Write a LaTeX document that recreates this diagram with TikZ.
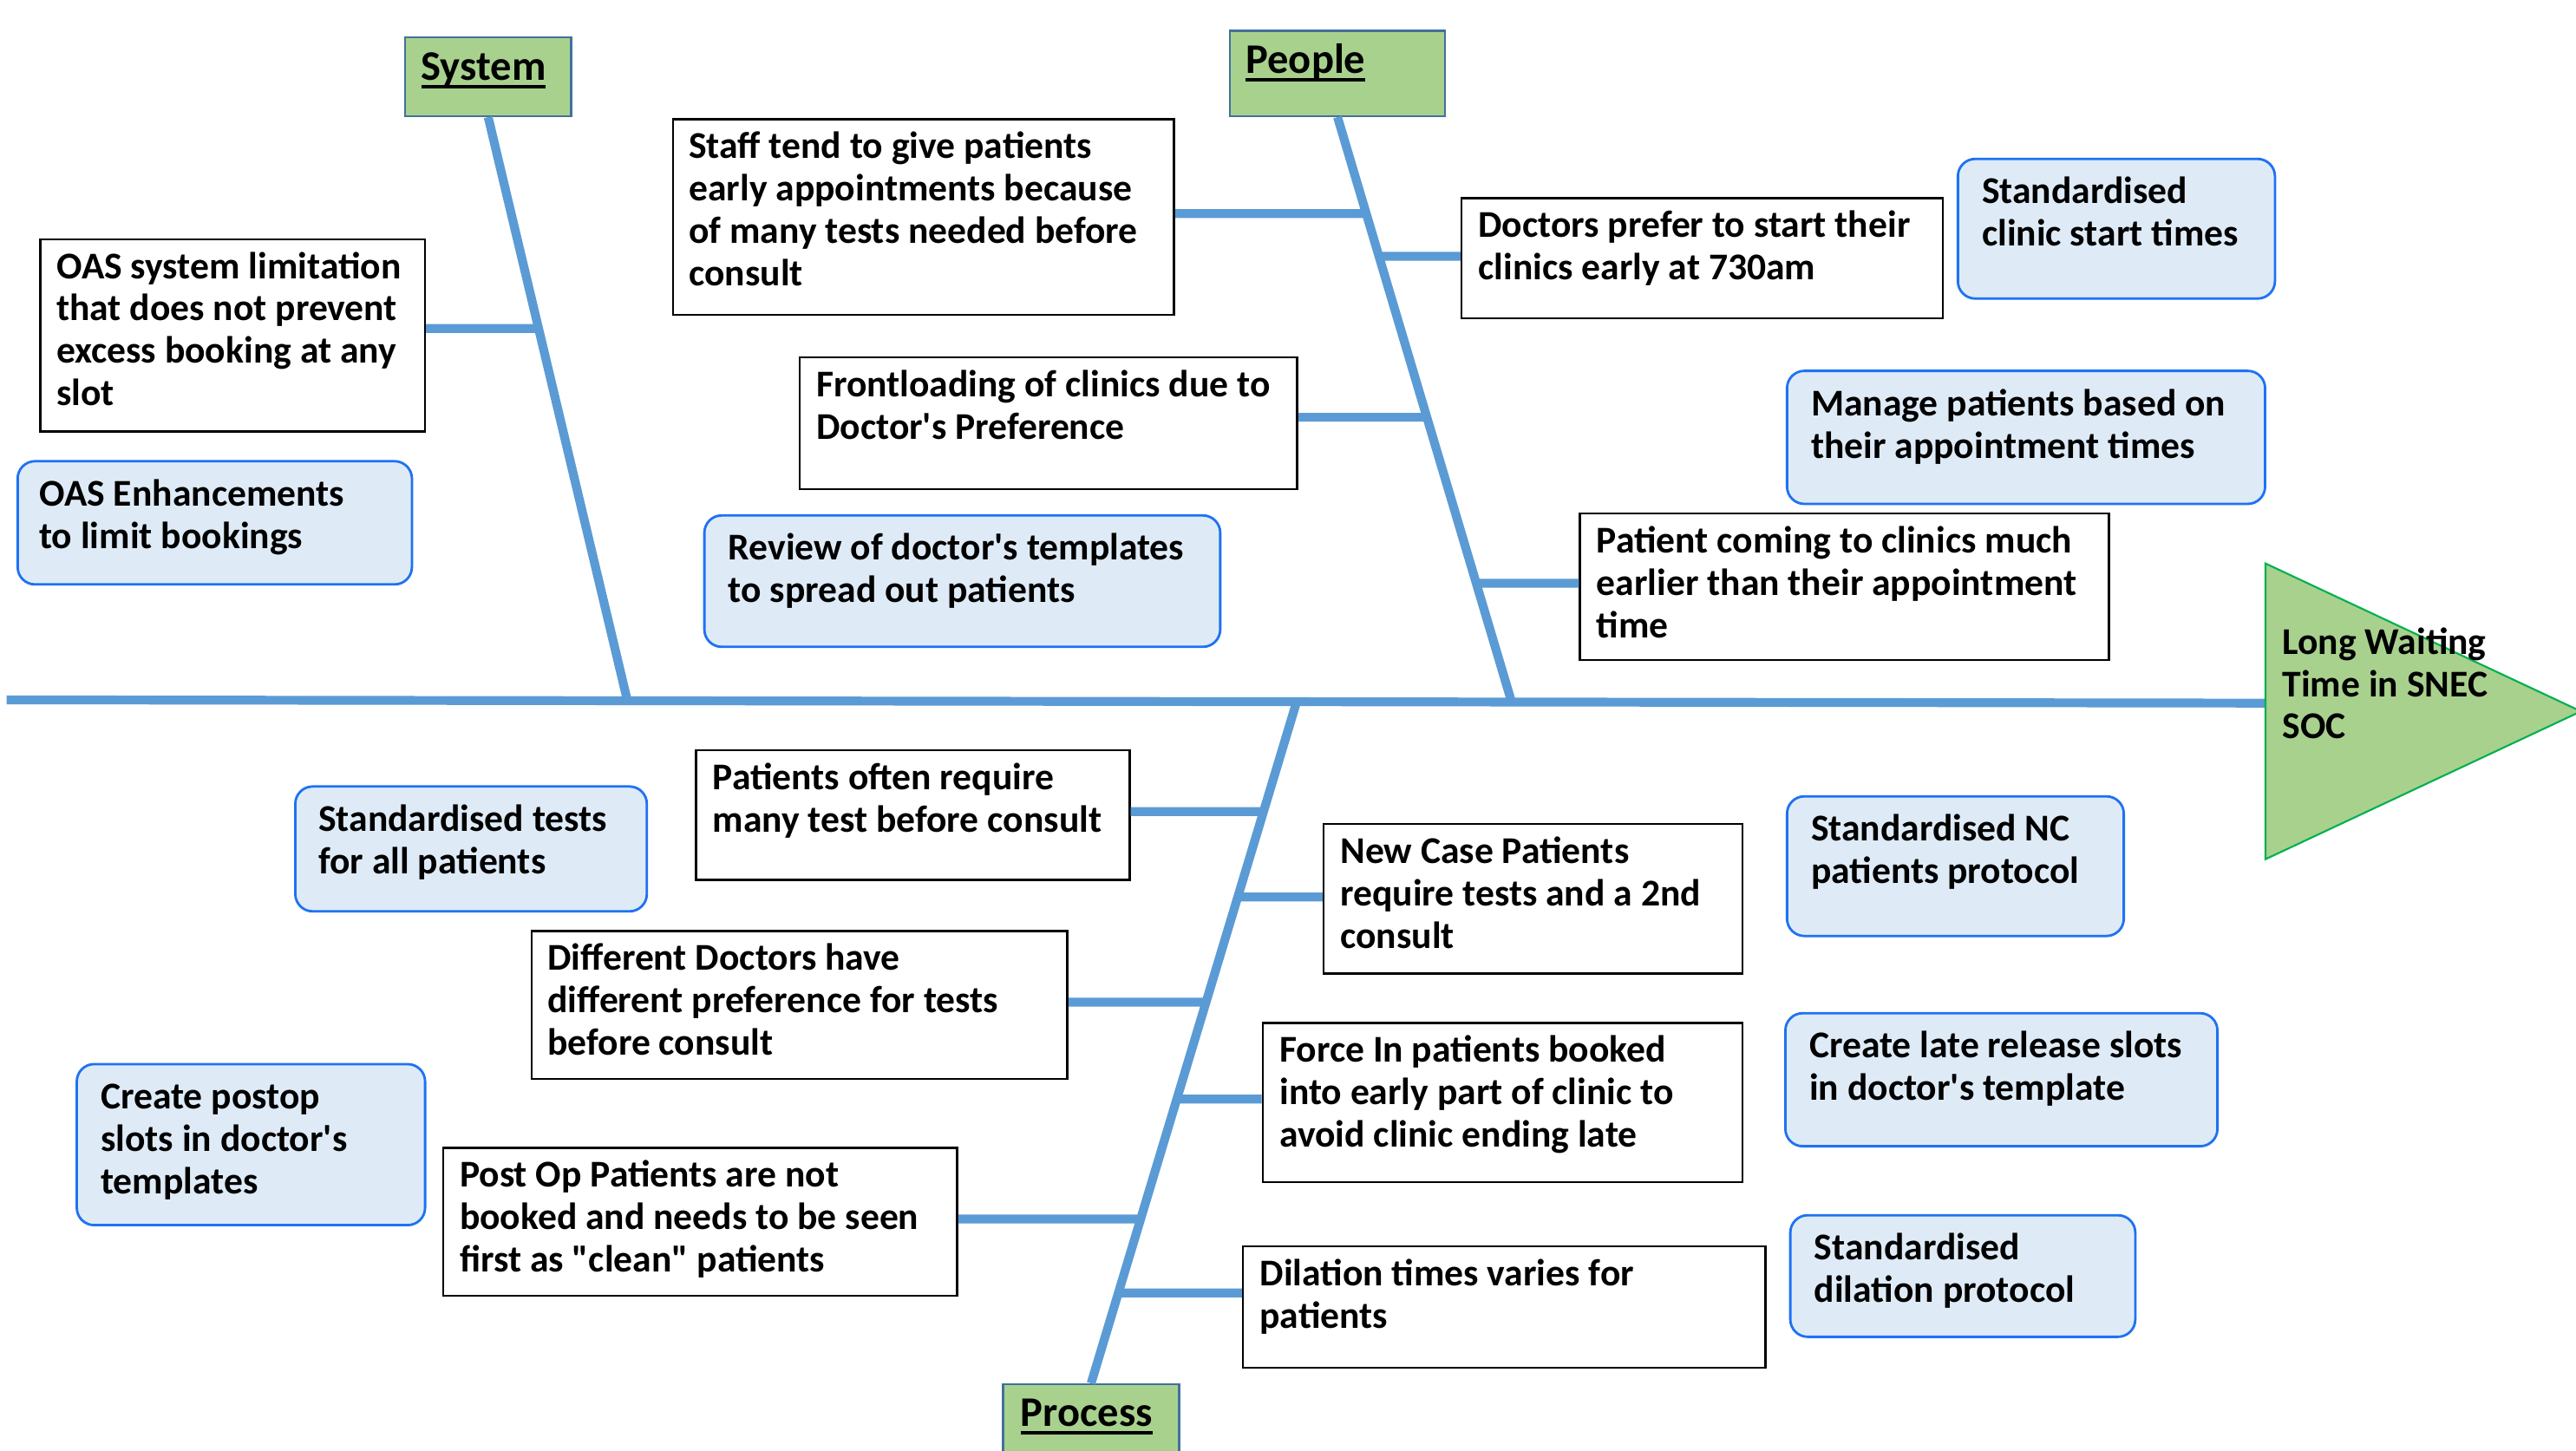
\documentclass[tikz,border=0pt]{standalone}
\usepackage{fontspec}
\setmainfont{Carlito}[Ligatures=TeXOff]
\usetikzlibrary{calc}
\definecolor{bonec}{HTML}{5B9BD5}
\definecolor{catfill}{HTML}{A9D18E}
\definecolor{catdraw}{HTML}{41719C}
\definecolor{solfill}{HTML}{DEEBF7}
\definecolor{soldraw}{HTML}{1F72F2}
\definecolor{headdraw}{HTML}{00B050}
\newcommand\bodyfont{\fontsize{12.4}{13.9}\selectfont\bfseries}
\newcommand\txtblock[1]{\parbox[t]{9cm}{\bodyfont\raggedright #1}}
\newsavebox\ulsave
\newcommand\ulx[1]{\sbox\ulsave{#1}\rlap{\rule[-2.7pt]{\wd\ulsave}{1.1pt}}\usebox\ulsave}
\tikzset{
  x=0.018941cm, y=-0.018941cm,
  bonel/.style={line width=2.9pt, draw=bonec},
  cause/.style={draw=black, line width=0.7pt, fill=white, inner sep=0pt, anchor=north west},
  sol/.style={draw=soldraw, line width=0.8pt, fill=solfill, rounded corners=0.2cm, inner sep=0pt, anchor=north west},
  cat/.style={draw=catdraw, line width=0.7pt, fill=catfill, inner sep=0pt, anchor=north west},
  txt/.style={inner sep=0pt, anchor=base west},
  cattxt/.style={inner sep=0pt, anchor=base west, font=\fontsize{13.8}{16}\selectfont\bfseries},
}
% style, name, x1, y1, x2, y2
\newcommand\mkbox[6]{%
  \pgfmathsetlengthmacro\bw{(#5-#3)*0.018941cm}%
  \pgfmathsetlengthmacro\bh{(#6-#4)*0.018941cm}%
  \node[#1, minimum width=\bw, minimum height=\bh] (#2) at (#3,#4) {};}
% anchor, y, bone
\newcommand\branch[3]{%
  \coordinate (bA) at (#1 |- 0,#2);
  \coordinate (bB) at ($(bA)+(10,0)$);
  \draw[bonel] (bA) -- (intersection of bA--bB and #3T--#3S);}
\begin{document}
\begin{tikzpicture}
\useasboundingbox (0,0) rectangle (1568,883);
\fill[white] (0,0) rectangle (1568,883);

% category boxes
\mkbox{cat}{sys}{246}{22}{347}{70}
\mkbox{cat}{ppl}{748}{18}{879}{70}
\mkbox{cat}{proc}{610}{842}{717}{905}

% spine and head
\coordinate (tail) at (4,426);
\coordinate (headW) at (1379,428);
\coordinate (hTL) at (1379,343);
\coordinate (hBL) at (1379,523);
\coordinate (hTip) at (1571,433);
\draw[bonel] (tail) -- (headW);

% bones
\coordinate (sysT) at (sys.south);
\coordinate (sysS) at (382,427);
\coordinate (pplT) at (ppl.south);
\coordinate (pplS) at (920,427);
\coordinate (procT) at (proc.north);
\coordinate (procS) at (789,428);
\draw[bonel] (sysT) -- (sysS);
\draw[bonel] (pplT) -- (pplS);
\draw[bonel] (procT) -- (procS);

% cause boxes
\mkbox{cause}{oas}{24}{145}{258}{262}
\mkbox{cause}{staff}{409}{72}{714}{191}
\mkbox{cause}{doc}{889}{120}{1182}{193}
\mkbox{cause}{front}{486}{217}{789}{297}
\mkbox{cause}{pcome}{961}{312}{1283}{401}
\mkbox{cause}{often}{423}{456}{687}{535}
\mkbox{cause}{newc}{805}{501}{1060}{592}
\mkbox{cause}{diff}{323}{566}{649}{656}
\mkbox{cause}{force}{768}{622}{1060}{719}
\mkbox{cause}{post}{269}{698}{582}{788}
\mkbox{cause}{dil}{756}{758}{1074}{832}

% branches
\branch{oas.east}{200}{sys}
\branch{staff.east}{130}{ppl}
\branch{doc.west}{156}{ppl}
\branch{front.east}{254}{ppl}
\branch{pcome.west}{355}{ppl}
\branch{often.east}{494}{proc}
\branch{newc.west}{546}{proc}
\branch{diff.east}{610}{proc}
\branch{force.west}{669}{proc}
\branch{post.east}{742}{proc}
\branch{dil.west}{787}{proc}

% solution boxes
\mkbox{sol}{ssct}{1191}{96}{1384}{181}
\mkbox{sol}{mng}{1087}{225}{1378}{306}
\mkbox{sol}{oase}{10}{280}{250}{355}
\mkbox{sol}{rev}{428}{313}{742}{393}
\mkbox{sol}{stests}{179}{478}{393}{554}
\mkbox{sol}{snc}{1087}{484}{1292}{569}
\mkbox{sol}{cpost}{46}{647}{258}{745}
\mkbox{sol}{clate}{1086}{616}{1349}{697}
\mkbox{sol}{sdil}{1089}{739}{1299}{813}

% head
\filldraw[fill=catfill, draw=headdraw, line width=0.6pt] (hTL) -- (hTip) -- (hBL) -- cycle;

% category texts
\node[cattxt] (sysT2) at ($(sys.north west)+(10,26.8)$) {\ulx{System}};
\node[cattxt] (pplT2) at ($(ppl.north west)+(10,26.8)$) {\ulx{People}};
\node[cattxt] (procT2) at ($(proc.north west)+(11,26.2)$) {\ulx{Process}};

% cause texts
\node[txt] (oasT) at ($(oas.north west)+(10,24.5)$) {\txtblock{OAS system limitation\\that does not prevent\\excess booking at any\\slot}};
\node[txt] (staffT) at ($(staff.north west)+(10,24.5)$) {\txtblock{Staff tend to give patients\\early appointments because\\of many tests needed before\\consult}};
\node[txt] (docT) at ($(doc.north west)+(10.5,24.5)$) {\txtblock{Doctors prefer to start their\\clinics early at 730am}};
\node[txt] (frontT) at ($(front.north west)+(10.5,24.5)$) {\txtblock{Frontloading of clinics due to\\Doctor's Preference}};
\node[txt] (pcomeT) at ($(pcome.north west)+(10.5,24.5)$) {\txtblock{Patient coming to clinics much\\earlier than their appointment\\time}};
\node[txt] (oftenT) at ($(often.north west)+(10.5,24.5)$) {\txtblock{Patients often require\\many test before consult}};
\node[txt] (newcT) at ($(newc.north west)+(10.5,24.5)$) {\txtblock{New Case Patients\\require tests and a 2nd\\consult}};
\node[txt] (diffT) at ($(diff.north west)+(10,24.5)$) {\txtblock{Different Doctors have\\different preference for tests\\before consult}};
\node[txt] (forceT) at ($(force.north west)+(10.5,24.5)$) {\txtblock{Force In patients booked\\into early part of clinic to\\avoid clinic ending late}};
\node[txt] (postT) at ($(post.north west)+(10.5,24.5)$) {\txtblock{Post Op Patients are not\\booked and needs to be seen\\first as "clean" patients}};
\node[txt] (dilT) at ($(dil.north west)+(10.5,24.5)$) {\txtblock{Dilation times varies for\\patients}};

% solution texts
\node[txt] (ssctT) at ($(ssct.north west)+(15,28)$) {\txtblock{Standardised\\clinic start times}};
\node[txt] (mngT) at ($(mng.north west)+(15,28)$) {\txtblock{Manage patients based on\\their appointment times}};
\node[txt] (oaseT) at ($(oase.north west)+(13.5,28)$) {\txtblock{OAS Enhancements\\to limit bookings}};
\node[txt] (revT) at ($(rev.north west)+(15,28)$) {\txtblock{Review of doctor's templates\\to spread out patients}};
\node[txt] (stestsT) at ($(stests.north west)+(14.5,28)$) {\txtblock{Standardised tests\\for all patients}};
\node[txt] (sncT) at ($(snc.north west)+(15,28)$) {\txtblock{Standardised NC\\patients protocol}};
\node[txt] (cpostT) at ($(cpost.north west)+(15,28)$) {\txtblock{Create postop\\slots in doctor's\\templates}};
\node[txt] (clateT) at ($(clate.north west)+(15,28)$) {\txtblock{Create late release slots\\in doctor's template}};
\node[txt] (sdilT) at ($(sdil.north west)+(15,28)$) {\txtblock{Standardised\\dilation protocol}};

% head text
\node[txt] (headT) at (1389,398.5) {\parbox[t]{5cm}{\fontsize{12.4}{13.8}\selectfont\bfseries\raggedright Long Waiting\\Time in SNEC\\SOC}};
\end{tikzpicture}
\end{document}
